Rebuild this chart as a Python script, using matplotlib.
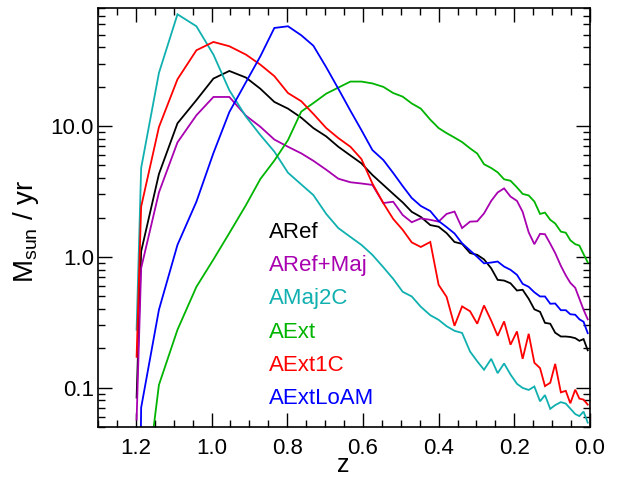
import numpy as np
import matplotlib
matplotlib.use("Agg")
import matplotlib.pyplot as plt
from matplotlib.ticker import FixedLocator, FixedFormatter, LogLocator, NullFormatter

plt.rcParams['font.family'] = ['Liberation Sans', 'DejaVu Sans']
plt.rcParams['mathtext.fontset'] = 'custom'
plt.rcParams['mathtext.rm'] = 'Liberation Sans'

# redshift of each snapshot
z = [1.198, 1.186, 1.139, 1.090, 1.040, 0.995, 0.953, 0.909, 0.871, 0.834,
     0.798, 0.763, 0.731, 0.697, 0.665, 0.633, 0.604, 0.575, 0.546, 0.520,
     0.495, 0.471, 0.447, 0.422, 0.400, 0.379, 0.358, 0.338, 0.317, 0.298,
     0.280, 0.261, 0.244, 0.227, 0.210, 0.193, 0.178, 0.162, 0.147, 0.132,
     0.119, 0.105, 0.092, 0.077, 0.064, 0.052, 0.039, 0.028, 0.017, 0.006]

aref = [0.084, 1.10, 4.30, 10.5, 15.8, 23.1, 26.4, 23.5, 19.3, 15.3,
        13.6, 11.6, 9.66, 8.34, 6.95, 5.96, 5.19, 4.23, 3.55, 3.03,
        2.61, 2.21, 2.02, 1.75, 1.70, 1.52, 1.30, 1.257, 1.07, 1.036,
        0.957, 0.817, 0.667, 0.659, 0.628, 0.553, 0.560, 0.478, 0.397, 0.380,
        0.313, 0.308, 0.263, 0.246, 0.246, 0.244, 0.239, 0.228, 0.235, 0.193]

aref_maj = [0.057, 0.820, 3.11, 7.51, 12.1, 16.7, 16.7, 12.0, 9.88, 7.89,
            6.95, 6.19, 5.43, 4.64, 3.96, 3.72, 3.64, 3.55, 2.58, 2.64,
            2.09, 1.84, 1.97, 1.92, 1.86, 2.13, 2.22, 1.66, 1.86, 1.87,
            2.15, 2.68, 3.11, 3.34, 2.89, 2.68, 2.21, 1.54, 1.25, 1.50,
            1.49, 1.26, 1.07, 0.854, 0.722, 0.633, 0.580, 0.478, 0.394, 0.333]

amaj2c = [0.277, 4.78, 25.5, 71.6, 58.0, 35.2, 18.8, 11.8, 8.54, 6.38,
          4.40, 3.58, 2.97, 2.13, 1.66, 1.42, 1.235, 1.036, 0.832, 0.679,
          0.541, 0.498, 0.415, 0.358, 0.330, 0.295, 0.272, 0.262, 0.189, 0.159,
          0.137, 0.166, 0.129, 0.153, 0.126, 0.107, 0.0995, 0.096, 0.102, 0.0786,
          0.0877, 0.0688, 0.0735, 0.0775, 0.0755, 0.0691, 0.0628, 0.0606, 0.0656, 0.054]

aext = [0.003, 0.0085, 0.105, 0.277, 0.590, 0.955, 1.52, 2.49, 3.94, 5.45,
        7.82, 12.9, 15.0, 17.7, 19.7, 21.9, 21.9, 21.2, 19.95, 17.9,
        16.8, 14.9, 13.6, 11.2, 9.66, 8.84, 8.17, 7.55, 6.76, 6.17,
        5.11, 4.78, 4.43, 3.92, 3.82, 3.40, 3.03, 2.95, 2.65, 2.13,
        2.18, 1.92, 1.80, 1.56, 1.53, 1.34, 1.25, 1.22, 1.05, 0.908]

aext1c = [0.172, 2.42, 9.83, 22.8, 38.0, 44.0, 40.8, 35.2, 29.5, 24.1,
          17.9, 15.5, 12.4, 9.66, 8.10, 6.95, 5.60, 3.64, 2.57, 1.95,
          1.61, 1.29, 1.19, 1.30, 0.611, 0.495, 0.297, 0.418, 0.384, 0.308,
          0.425, 0.325, 0.249, 0.321, 0.213, 0.269, 0.166, 0.258, 0.155, 0.141,
          0.1027, 0.109, 0.152, 0.092, 0.0945, 0.0759, 0.0965, 0.0824, 0.081, 0.0741]

aextloam = [0.0001, 0.0703, 0.394, 1.235, 2.64, 6.22, 12.8, 21.7, 34.2, 56.3,
            58.0, 49.5, 41.2, 28.2, 19.3, 13.1, 9.32, 6.56, 5.50, 4.38,
            3.48, 2.82, 2.45, 2.24, 1.88, 1.69, 1.51, 1.27, 1.12, 1.00,
            0.892, 0.905, 0.921, 0.843, 0.796, 0.729, 0.622, 0.590, 0.536, 0.498,
            0.498, 0.438, 0.440, 0.391, 0.391, 0.364, 0.361, 0.333, 0.319, 0.261]

names = ['ARef', 'ARef+Maj', 'AMaj2C', 'AExt', 'AExt1C', 'AExtLoAM']
series = [aref, aref_maj, amaj2c, aext, aext1c, aextloam]
colors = ['#000000', '#A800B0', '#10B0B0', '#00B400', '#FF0000', '#0000FF']

xticks = [1.2, 1.0, 0.8, 0.6, 0.4, 0.2, 0.0]
xticklabels = ['1.2', '1.0', '0.8', '0.6', '0.4', '0.2', '0.0']
yticks = [0.1, 1.0, 10.0]
yticklabels = ['0.1', '1.0', '10.0']

fig = plt.figure(figsize=(6.23, 4.83), dpi=100)
ax = fig.add_axes([98/623, 56/483, 492/623, 419/483])

for vals, c in zip(series, colors):
    ax.plot(z, vals, color=c, lw=1.3, solid_joinstyle='miter')

ax.set_yscale('log')
ax.set_xlim(1.3, 0.0)
ax.set_ylim(0.05, 80)

ax.xaxis.set_major_locator(FixedLocator(xticks))
ax.xaxis.set_major_formatter(FixedFormatter(xticklabels))
ax.xaxis.set_minor_locator(FixedLocator(np.arange(0.0, 1.31, 0.05)))
ax.yaxis.set_major_locator(FixedLocator(yticks))
ax.yaxis.set_major_formatter(FixedFormatter(yticklabels))
ax.yaxis.set_minor_locator(LogLocator(base=10, subs=np.arange(2, 10)))
ax.yaxis.set_minor_formatter(NullFormatter())

ax.tick_params(which='both', direction='in', top=True, right=True,
               width=1.0, labelsize=16, colors='black')
ax.tick_params(which='major', length=10)
ax.tick_params(axis='x', which='major', pad=8)
ax.tick_params(axis='y', which='major', pad=3)
ax.tick_params(which='minor', length=5)
for s in ax.spines.values():
    s.set_linewidth(1.2)

# axis titles placed in figure coordinates
fig.text(343/623, 1 - 472/483, 'z', fontsize=18, ha='center', va='baseline')
fig.text(26/623, 1 - 231/483, r'M$_{\rm sun}$ / yr', fontsize=20,
         rotation=90, ha='center', va='center')

for i, (n, c) in enumerate(zip(names, colors)):
    ax.text(0.348, 0.465 - i * 0.0795, n, color=c, fontsize=16,
            transform=ax.transAxes, ha='left', va='center')

fig.savefig('out.png', dpi=100)
